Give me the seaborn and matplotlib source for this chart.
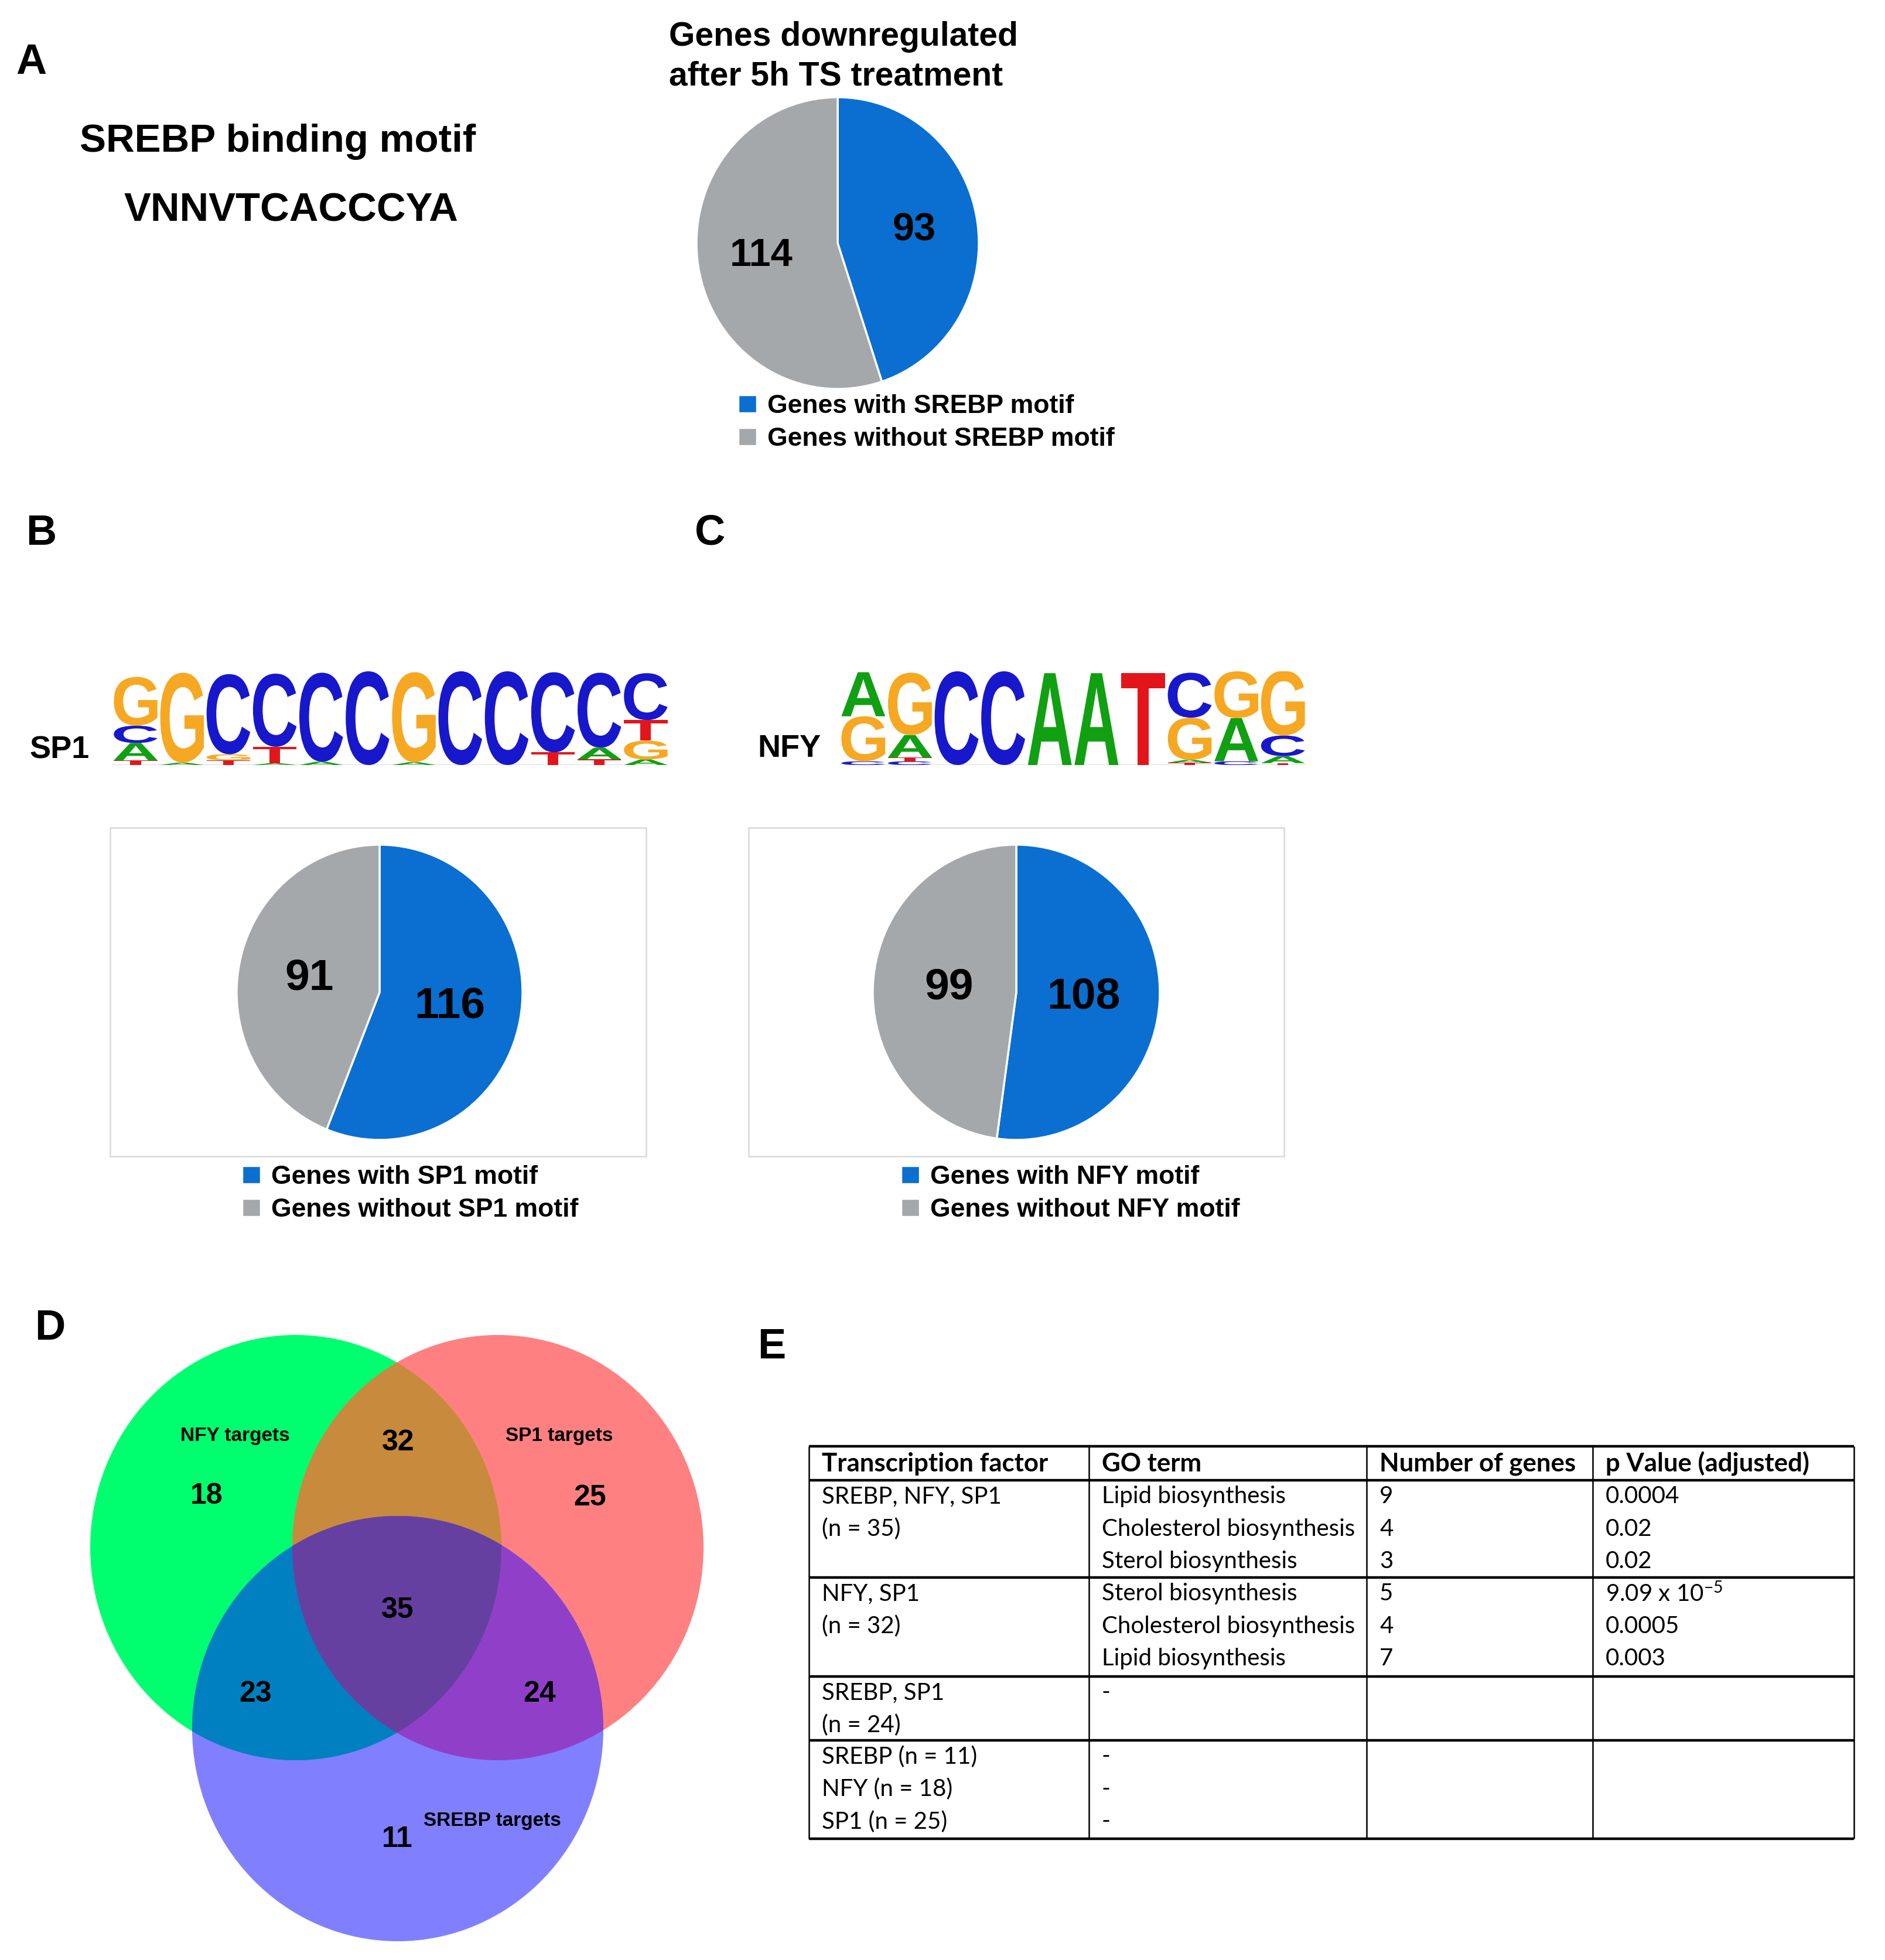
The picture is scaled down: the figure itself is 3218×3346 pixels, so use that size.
import numpy as np
import matplotlib
matplotlib.use("Agg")
import matplotlib.pyplot as plt
import seaborn as sns
from matplotlib.patches import Ellipse, Polygon, Rectangle, PathPatch
from matplotlib.textpath import TextPath
from matplotlib.font_manager import FontProperties
from matplotlib.transforms import Affine2D

# ---- data ----
srebp_motif = "VNNVTCACCCYA"

pie_a_labels = ["Genes with SREBP motif", "Genes without SREBP motif"]
pie_a_values = [93, 114]
pie_b_labels = ["Genes with SP1 motif", "Genes without SP1 motif"]
pie_b_values = [116, 91]
pie_c_labels = ["Genes with NFY motif", "Genes without NFY motif"]
pie_c_values = [108, 99]

# sequence logos: per position, letters from bottom to top with height in bits
sp1_logo = [
    [("T", 0.10), ("A", 0.37), ("C", 0.37), ("G", 1.04)],
    [("A", 0.05), ("G", 1.92)],
    [("T", 0.10), ("G", 0.13), ("C", 1.71)],
    [("A", 0.04), ("T", 0.35), ("C", 1.56)],
    [("A", 0.07), ("C", 1.90)],
    [("C", 2.00)],
    [("A", 0.06), ("G", 1.92)],
    [("C", 2.00)],
    [("C", 2.00)],
    [("T", 0.27), ("C", 1.71)],
    [("T", 0.12), ("A", 0.25), ("C", 1.60)],
    [("A", 0.12), ("G", 0.40), ("T", 0.44), ("C", 1.00)],
]
nfy_logo = [
    [("C", 0.08), ("G", 0.96), ("A", 0.94)],
    [("C", 0.08), ("T", 0.08), ("A", 0.48), ("G", 1.33)],
    [("C", 2.00)],
    [("C", 2.00)],
    [("A", 1.96)],
    [("A", 1.96)],
    [("T", 1.96)],
    [("T", 0.05), ("A", 0.06), ("G", 0.90), ("C", 0.96)],
    [("C", 0.08), ("A", 0.92), ("G", 1.00)],
    [("T", 0.04), ("A", 0.15), ("C", 0.44), ("G", 1.38)],
]

# venn: NFY, SP1, SREBP
venn_names = ["NFY targets", "SP1 targets", "SREBP targets"]
venn_only = [18, 25, 11]
venn_pairs = [(0, 1), (0, 2), (1, 2)]
venn_pair_counts = [32, 23, 24]
venn_all = 35

# table E
table_header = ["Transcription factor", "GO term", "Number of genes", "p Value (adjusted)"]
table_tf = [["SREBP, NFY, SP1", "(n = 35)"], ["NFY, SP1", "(n = 32)"],
            ["SREBP, SP1", "(n = 24)"], ["SREBP (n = 11)", "NFY (n = 18)", "SP1 (n = 25)"]]
table_go = [["Lipid biosynthesis", "Cholesterol biosynthesis", "Sterol biosynthesis"],
            ["Sterol biosynthesis", "Cholesterol biosynthesis", "Lipid biosynthesis"],
            ["-"], ["-", "-", "-"]]
table_n = [["9", "4", "3"], ["5", "4", "7"], [], []]
table_p = [["0.0004", "0.02", "0.02"], ["9.09 x 10$^{-5}$", "0.0005", "0.003"], [], []]

# ---- style ----
sns.set_theme(style="white")
plt.rcParams["font.family"] = ["Liberation Sans", "DejaVu Sans"]
plt.rcParams["text.color"] = "black"
plt.rcParams["mathtext.fontset"] = "custom"
plt.rcParams["mathtext.rm"] = "Lato"
plt.rcParams["mathtext.default"] = "regular"

pie_colors = sns.color_palette(["#0a6fd0", "#a5a8ab"])
logo_colors = {"A": "#10a012", "C": "#1717cc", "G": "#f6a823", "T": "#e3151b"}
venn_solo = ["#00ff6e", "#ff8080", "#8080ff"]
venn_pair_colors = ["#c88a3c", "#0080c0", "#9040c8"]
venn_all_color = "#6640a0"

W, H = 3218, 3346
fig = plt.figure(figsize=(W / 100, H / 100), dpi=100)
fig.patch.set_facecolor("white")


def fx(x):
    return x / W


def fy(y):
    return 1 - y / H


def px_axes(x0, y0, x1, y1):
    return fig.add_axes([fx(x0), fy(y1), (x1 - x0) / W, (y1 - y0) / H])


def draw_pie(cx, cy, rx, ry, values, labels, fsize, pdist, leg_xy):
    m = 1.04
    ax = px_axes(cx - rx * m, cy - ry * m, cx + rx * m, cy + ry * m)
    total = sum(values)
    wedges, _, _ = ax.pie(values, colors=pie_colors, startangle=90, counterclock=False,
                          autopct=lambda p: f"{p * total / 100:.0f}", pctdistance=pdist,
                          wedgeprops=dict(edgecolor="white", linewidth=2.5),
                          textprops=dict(fontsize=fsize, fontweight="bold", color="black"))
    ax.set_xlim(-m, m)
    ax.set_ylim(-m, m)
    ax.set_aspect("auto")
    ax.axis("off")
    fig.legend(wedges, labels, loc="upper left", bbox_to_anchor=(fx(leg_xy[0]), fy(leg_xy[1])),
               frameon=False, borderpad=0, borderaxespad=0, handlelength=0.72, handleheight=0.72,
               handletextpad=0.4, labelspacing=0.34,
               prop=dict(size=32, weight="bold"), labelcolor="black")


fp_logo = FontProperties(family="Liberation Sans", weight="bold")


def draw_logo(x0, y0, x1, y1, logo):
    ax = px_axes(x0, y0, x1, y1)
    for i, col in enumerate(logo, start=1):
        base = 0
        for letter, h in col:
            tp = TextPath((0, 0), letter, size=1, prop=fp_logo)
            bb = tp.get_extents()
            tr = (Affine2D().translate(-bb.x0, -bb.y0)
                  .scale(0.94 / bb.width, h / bb.height).translate(i - 0.47, base))
            ax.add_patch(PathPatch(tr.transform_path(tp), fc=logo_colors[letter], lw=0))
            base += h
    ax.axhline(0, color="#dddddd", lw=1.5, zorder=0)
    ax.set_xlim(0.5, len(logo) + 0.5)
    ax.set_ylim(0, 2)
    ax.axis("off")


# ---- panel letters ----
for lab, x, y in [("A", 53, 107), ("B", 70, 911), ("C", 1212, 911), ("D", 85, 2268), ("E", 1317, 2300)]:
    fig.text(fx(x), fy(y), lab, fontsize=52, fontweight="bold", ha="center", va="center")

# ---- panel A ----
fig.text(fx(474), fy(242), "SREBP binding motif", fontsize=48.5, fontweight="bold", ha="center", va="center")
fig.text(fx(497), fy(359), srebp_motif, fontsize=49.5, fontweight="bold", ha="center", va="center")
fig.text(fx(1142), fy(97), "Genes downregulated\nafter 5h TS treatment", fontsize=41,
         fontweight="bold", ha="left", va="center", linespacing=1.33)
draw_pie(1430, 415, 241, 249, pie_a_values, pie_a_labels, 48, 0.55, (1260, 673))

# ---- panels B, C ----
fig.text(fx(102), fy(1280), "SP1", fontsize=39, fontweight="bold", ha="center", va="center")
draw_logo(192, 1146, 1142, 1306, sp1_logo)
fig.text(fx(1347), fy(1278), "NFY", fontsize=39, fontweight="bold", ha="center", va="center")
draw_logo(1434, 1146, 2230, 1306, nfy_logo)

for x0, x1 in [(188, 1103), (1278, 2192)]:
    fig.add_artist(Rectangle((fx(x0), fy(1974)), (x1 - x0) / W, (1974 - 1413) / H,
                             transform=fig.transFigure, fill=False, ec="#d9d9d9", lw=1.8))
draw_pie(648, 1694, 244, 252, pie_b_values, pie_b_labels, 54, 0.5, (413, 1989))
draw_pie(1735, 1694, 245, 252, pie_c_values, pie_c_labels, 54, 0.47, (1538, 1989))

# ---- panel D: venn ----
vax = px_axes(0, 2250, 1300, 3346)
vax.set_xlim(0, 1300)
vax.set_ylim(3346, 2250)
vax.axis("off")
centers = [(505, 2642), (850, 2642), (679, 2951)]
rx, ry = 351, 363


def ell_pts(c, n=2880):
    t = np.linspace(0, 2 * np.pi, n, endpoint=False)
    return np.column_stack([c[0] + rx * np.cos(t), c[1] + ry * np.sin(t)])


def inside(pts, c):
    return ((pts[:, 0] - c[0]) / rx) ** 2 + ((pts[:, 1] - c[1]) / ry) ** 2 <= 1 + 1e-9


def intersect(idx):
    keep = []
    for i in idx:
        p = ell_pts(centers[i])
        mask = np.ones(len(p), bool)
        for j in idx:
            if j != i:
                mask &= inside(p, centers[j])
        keep.append(p[mask])
    pts = np.vstack(keep)
    m = pts.mean(axis=0)
    order = np.argsort(np.arctan2(pts[:, 1] - m[1], pts[:, 0] - m[0]))
    return pts[order]


for c, col in zip(centers, venn_solo):
    vax.add_patch(Ellipse(c, 2 * rx, 2 * ry, fc=col, ec="none"))
for pair, col in zip(venn_pairs, venn_pair_colors):
    vax.add_patch(Polygon(intersect(pair), closed=True, fc=col, ec="none"))
vax.add_patch(Polygon(intersect((0, 1, 2)), closed=True, fc=venn_all_color, ec="none"))

name_pos = [(401, 2451), (955, 2451), (840, 3108)]
for name, (x, y) in zip(venn_names, name_pos):
    vax.text(x, y, name, fontsize=24, fontweight="bold", ha="center", va="center")
only_pos = [(353, 2554), (1007, 2557), (678, 3140)]
for n, (x, y) in zip(venn_only, only_pos):
    vax.text(x, y, str(n), fontsize=36, fontweight="bold", ha="center", va="center")
pair_pos = [(680, 2463), (436, 2892), (921, 2892)]
for n, (x, y) in zip(venn_pair_counts, pair_pos):
    vax.text(x, y, str(n), fontsize=36, fontweight="bold", ha="center", va="center")
vax.text(679, 2749, str(venn_all), fontsize=36, fontweight="bold", ha="center", va="center")

# ---- panel E: table ----
tax = px_axes(1360, 2440, 3190, 3160)
tax.set_xlim(1360, 3190)
tax.set_ylim(3160, 2440)
tax.axis("off")
col_x = [1381, 1859, 2333, 2719, 3165]
row_lines = [2469, 2527, 2693, 2862, 2971, 3139]
tax.hlines(row_lines, col_x[0], col_x[-1], colors="black", lw=3.2)
tax.vlines(col_x, row_lines[0], row_lines[-1], colors="black", lw=1.8)
for j, h in enumerate(table_header):
    tax.text(col_x[j] + 22, 2499, h, fontsize=31.5, fontweight="bold", family="Lato",
             ha="left", va="center")
for g in range(len(table_tf)):
    top = row_lines[g + 1]
    for j, cells in enumerate([table_tf[g], table_go[g], table_n[g], table_p[g]]):
        for r, s in enumerate(cells):
            tax.text(col_x[j] + 22, top + 28 + r * 55.5, s, fontsize=29, family="Lato",
                     ha="left", va="center")

fig.savefig("out.png", dpi=100, facecolor="white")
